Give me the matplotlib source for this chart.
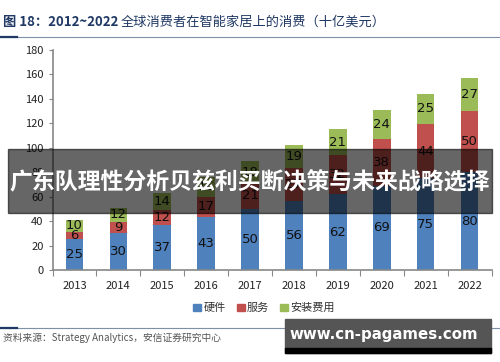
import matplotlib.pyplot as plt
from matplotlib.patches import Rectangle
from matplotlib.lines import Line2D

plt.rcParams['font.family'] = ['Noto Sans CJK SC', 'DejaVu Sans']

years = ['2013', '2014', '2015', '2016', '2017', '2018', '2019', '2020', '2021', '2022']
hardware = [25, 30, 37, 43, 50, 56, 62, 69, 75, 80]
service = [6, 9, 12, 17, 21, 27, 32, 38, 44, 50]
install = [10, 12, 14, 16, 18, 19, 21, 24, 25, 27]
series_names = ['硬件', '服务', '安装费用']
colors = ['#4F81BD', '#C0504D', '#9BBB59']

fig = plt.figure(figsize=(5, 3.62), dpi=100)
ax = fig.add_axes([0.105, 0.254, 0.878, 0.609])

x = range(len(years))
bottom = [0] * len(years)
for vals, c in zip([hardware, service, install], colors):
    bars = ax.bar(x, vals, 0.4, bottom=bottom, color=c, zorder=2)
    for b, v, bt in zip(bars, vals, bottom):
        ax.text(b.get_x() + b.get_width() / 2, bt + v / 2, str(v),
                ha='center', va='center', fontsize=9.5, color='#111111',
                family='DejaVu Sans')
    bottom = [a + b for a, b in zip(bottom, vals)]

ax.set_xlim(-0.5, 9.5)
ax.set_ylim(0, 180)
ax.set_yticks(range(0, 181, 20))
ax.set_xticks([i - 0.5 for i in range(11)], minor=False)
ax.set_xticklabels([])
ax.set_xticks(list(x), minor=True)
ax.set_xticklabels(years, minor=True)
ax.tick_params(axis='x', which='minor', length=0, pad=8, labelsize=8, labelcolor='#222222')
ax.tick_params(axis='x', which='major', length=4, color='#888888', direction='out')
ax.tick_params(axis='y', length=3, color='#888888', labelsize=8, labelcolor='#222222')
for s in ['top', 'right']:
    ax.spines[s].set_visible(False)
for s in ['left', 'bottom']:
    ax.spines[s].set_color('#888888')
    ax.spines[s].set_linewidth(1.2)

handles = [Rectangle((0, 0), 1, 1, color=c) for c in colors]
fig.legend(handles, series_names, loc='center', bbox_to_anchor=(0.528, 0.149),
           ncol=3, frameon=False, fontsize=8, handlelength=0.7, handleheight=0.7,
           handletextpad=0.2, columnspacing=1.0, labelcolor='#333333')

# title and rules
fig.text(0.006, 0.94, '图 18：2012~2022',
         fontsize=9.5, color='#1F3864', fontweight='bold', va='center', ha='left')
fig.text(0.242, 0.94, '全球消费者在智能家居上的消费（十亿美元）',
         fontsize=9.5, color='#1F3864', va='center', ha='left')
fig.add_artist(Line2D([0, 1], [0.899, 0.899], color='#7F8FA9', lw=0.8))
fig.add_artist(Line2D([0, 0.034], [0.899, 0.899], color='#1F3864', lw=1.6))
fig.add_artist(Line2D([0, 1], [0.094, 0.094], color='#7F8FA9', lw=0.8))
fig.add_artist(Line2D([0, 0.034], [0.094, 0.094], color='#1F3864', lw=1.6))
fig.text(0.006, 0.066, '资料来源：Strategy Analytics，安信证券研究中心',
         fontsize=7, color='#555555', style='italic', va='center', ha='left')

# overlay banner
fig.add_artist(Rectangle((0.016, 1 - 213 / 362), 0.968, 64 / 362,
                         transform=fig.transFigure, color='black', alpha=0.6, zorder=10))
fig.text(0.5, 1 - 183 / 362, '广东队理性分析贝兹利买断决策与未来战略选择',
         fontsize=16.5, color='white', fontweight='bold', ha='center', va='center', zorder=11)

# watermark
fig.add_artist(Rectangle((0.57, 1 - 353 / 362), 0.412, 34 / 362,
                         transform=fig.transFigure, color='#555555', zorder=10))
fig.add_artist(Rectangle((0.57, 1 - 353 / 362), 0.412, 5 / 362,
                         transform=fig.transFigure, color='black', zorder=10))
fig.text(0.768, 1 - 334 / 362, 'www.cn-pagames.com', fontsize=10.8, color='white',
         fontweight='bold', ha='center', va='center', family='DejaVu Sans', zorder=11)

fig.savefig('out.png', dpi=100)
